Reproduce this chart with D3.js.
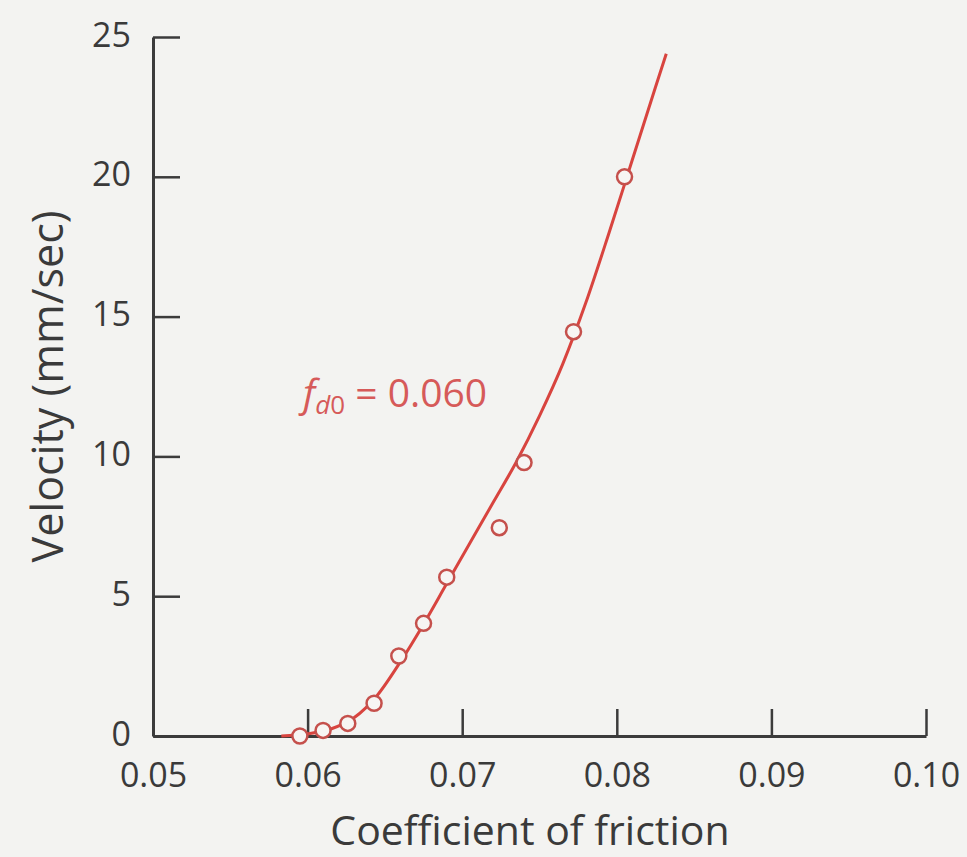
<!DOCTYPE html>
<html>
<head>
<meta charset="utf-8">
<script src="https://cdn.jsdelivr.net/npm/d3@7"></script>
<style>
  html, body { margin: 0; padding: 0; background: #f3f3f1; }
  svg { display: block; }
  text { font-family: "Open Sans", "Noto Sans", sans-serif; }
</style>
</head>
<body>
<svg id="chart" width="967" height="857"></svg>
<script>
// ---- data ----
const xTicks = [0.05, 0.06, 0.07, 0.08, 0.09, 0.10];
const xTickLabels = ["0.05", "0.06", "0.07", "0.08", "0.09", "0.10"];
const yTicks = [0, 5, 10, 15, 20, 25];
const yTickLabels = ["0", "5", "10", "15", "20", "25"];

// measured points (open circles)
const frictionObs = [0.0595, 0.0610, 0.0626, 0.0643, 0.0659, 0.0675, 0.0690, 0.0724, 0.0740, 0.0772, 0.0805];
const velocityObs = [0.0, 0.2, 0.45, 1.17, 2.86, 4.03, 5.68, 7.45, 9.78, 14.46, 20.0];

// fitted curve
const frictionFit = [0.0583, 0.0600, 0.0615, 0.0630, 0.0645, 0.0660, 0.0675, 0.0690, 0.0705, 0.0720, 0.0735, 0.0750, 0.0765, 0.0780, 0.0795, 0.0810, 0.0825, 0.0832];
const velocityFit = [0.0, 0.08, 0.25, 0.65, 1.45, 2.65, 4.0, 5.45, 6.9, 8.35, 9.8, 11.45, 13.3, 15.5, 18.0, 20.6, 23.2, 24.4];

const xTitle = "Coefficient of friction";
const yTitle = "Velocity (mm/sec)";

// ---- layout ----
(function () {
const mLeft = 153, mRight = 926, mTop = 37, mBottom = 736;
const axisColor = "#3b3b3b";
const red = "#d8443f";
const markerRed = "#c5504c";
const textRed = "#d65a59";

const svg = d3.select("#chart");

const x = d3.scaleLinear().domain([0.05, 0.10]).range([mLeft, mRight]);
const y = d3.scaleLinear().domain([0, 25]).range([mBottom, mTop]);

// x axis
const xAxis = d3.axisBottom(x)
  .tickValues(xTicks)
  .tickFormat((d, i) => xTickLabels[i])
  .tickSizeInner(-27)
  .tickSizeOuter(0)
  .tickPadding(27);
const gx = svg.append("g").attr("transform", `translate(0,${mBottom})`).call(xAxis);
gx.select(".domain").attr("stroke", axisColor).attr("stroke-width", 3);
gx.selectAll(".tick line").attr("stroke", axisColor).attr("stroke-width", 2.5);
gx.selectAll(".tick text")
  .attr("fill", "#3a3a3a")
  .style("font-size", "34px")
  .style("font-family", "'Open Sans', sans-serif");

// y axis
const yAxis = d3.axisLeft(y)
  .tickValues(yTicks)
  .tickFormat((d, i) => yTickLabels[i])
  .tickSizeInner(-27)
  .tickSizeOuter(0)
  .tickPadding(22);
const gy = svg.append("g").attr("transform", `translate(${mLeft},0)`).call(yAxis);
gy.select(".domain").attr("stroke", axisColor).attr("stroke-width", 3);
gy.selectAll(".tick line").attr("stroke", axisColor).attr("stroke-width", 2.5);
gy.selectAll(".tick text")
  .attr("fill", "#3a3a3a")
  .attr("dy", "0.27em")
  .style("font-size", "34px")
  .style("font-family", "'Open Sans', sans-serif");

// axis titles
svg.append("text")
  .attr("x", 530)
  .attr("y", 845)
  .attr("text-anchor", "middle")
  .attr("fill", "#3a3a3a")
  .style("font-size", "41px")
  .text(xTitle);

svg.append("text")
  .attr("transform", `translate(63,${(mTop + mBottom) / 2}) rotate(-90)`)
  .attr("text-anchor", "middle")
  .attr("fill", "#3a3a3a")
  .style("font-size", "43px")
  .text(yTitle);

// fitted curve
const fitData = frictionFit.map((f, i) => ({ f, v: velocityFit[i] }));
const line = d3.line()
  .x(d => x(d.f))
  .y(d => y(d.v))
  .curve(d3.curveMonotoneX);
svg.append("path")
  .datum(fitData)
  .attr("d", line)
  .attr("fill", "none")
  .attr("stroke", red)
  .attr("stroke-width", 3);

// observed points
const obsData = frictionObs.map((f, i) => ({ f, v: velocityObs[i] }));
svg.append("g").selectAll("circle")
  .data(obsData)
  .join("circle")
  .attr("cx", d => x(d.f))
  .attr("cy", d => y(d.v))
  .attr("r", 7.5)
  .attr("fill", "#f7f5f3")
  .attr("stroke", markerRed)
  .attr("stroke-width", 2.5);

// annotation f_d0 = 0.060
const ann = svg.append("text")
  .attr("x", 303)
  .attr("y", 407)
  .attr("fill", textRed)
  .style("font-size", "39px");
ann.append("tspan").style("font-style", "italic").text("f");
ann.append("tspan").attr("dy", 7).style("font-size", "26px").style("font-style", "italic").text("d");
ann.append("tspan").style("font-size", "26px").text("0");
ann.append("tspan").attr("dy", -7).text(" = 0.060");
})();
</script>
</body>
</html>
